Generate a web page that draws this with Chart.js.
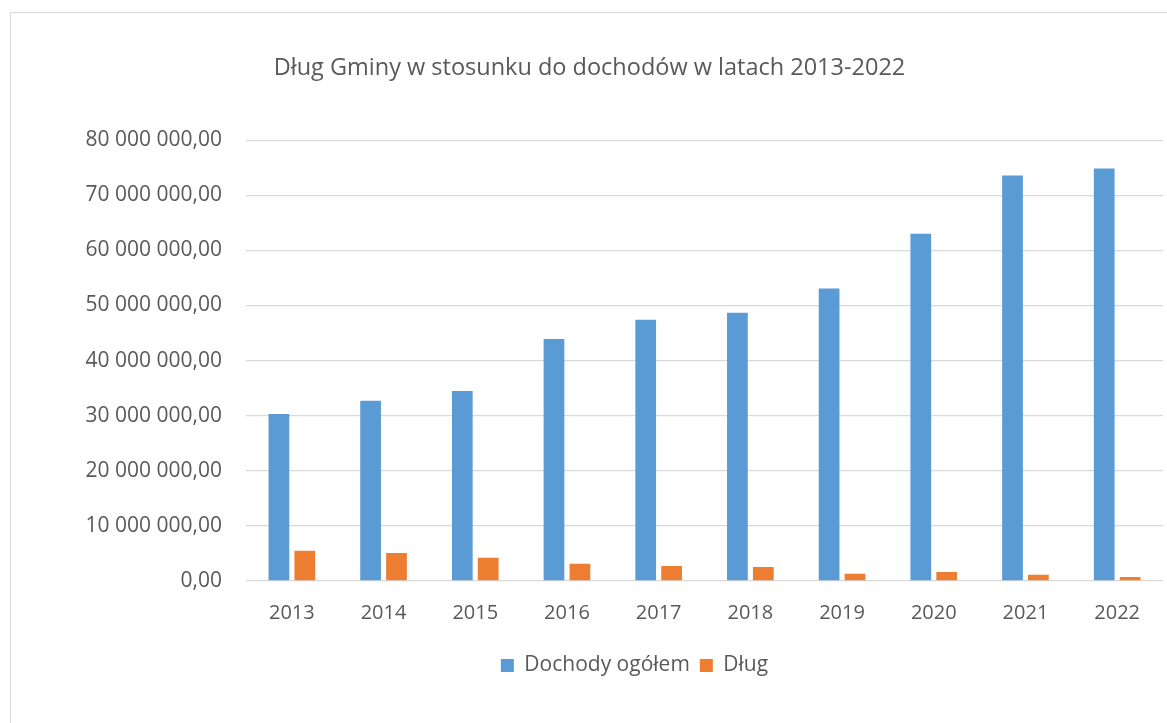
<!DOCTYPE html>
<html>
<head>
<meta charset="utf-8">
<script src="https://cdn.jsdelivr.net/npm/chart.js@4"></script>
<style>
  html, body { margin: 0; padding: 0; background: #fff; overflow: hidden; }
  #frame { position: absolute; left: 10px; top: 12px; width: 1200px; height: 800px; border: 1px solid #d9d9d9; }
  #wrap { position: absolute; left: 0; top: 0; width: 1167px; height: 723px; }
</style>
</head>
<body>
<div id="frame"></div>
<div id="wrap"><canvas id="chart"></canvas></div>
<script>
// Lata i wartości
const years = ['2013', '2014', '2015', '2016', '2017', '2018', '2019', '2020', '2021', '2022'];
const dochody = [30300000, 32700000, 34500000, 43900000, 47400000, 48700000, 53100000, 63000000, 73600000, 74850000];
const dlug = [5500000, 5100000, 4200000, 3150000, 2700000, 2550000, 1330000, 1640000, 1150000, 730000];

const textColor = '#595959';
const fontFamily = "'Open Sans', sans-serif";

// 80000000 -> "80 000 000,00"
function fmt(v) {
    const s = Math.round(v).toString().replace(/\B(?=(\d{3})+(?!\d))/g, ' ');
    return s + ',00';
}

// w oryginale tytuł i legenda nie są na środku płótna - lekko je przesuwamy w prawo
const shiftBoxes = {
    id: 'shiftBoxes',
    afterLayout(chart) {
        const l = chart.legend;
        if (l) {
            l.left += 53;
            l.right += 53;
            (l.legendHitBoxes || []).forEach(b => { b.left += 53; });
        }
        const t = chart.titleBlock;
        if (t) {
            t.left += 8;
            t.right += 8;
        }
    }
};

new Chart(document.getElementById('chart'), {
    type: 'bar',
    data: {
        labels: years,
        datasets: [
            { label: 'Dochody ogółem', data: dochody, backgroundColor: '#5b9bd5' },
            { label: 'Dług', data: dlug, backgroundColor: '#ed7d31' }
        ]
    },
    plugins: [shiftBoxes],
    options: {
        responsive: true,
        maintainAspectRatio: false,
        animation: false,
        layout: { padding: { left: 0, right: 4, top: 0, bottom: 37 } },
        datasets: { bar: { categoryPercentage: 0.565, barPercentage: 0.8 } },
        plugins: {
            title: {
                display: true,
                text: 'Dług Gminy w stosunku do dochodów w latach 2013-2022',
                color: textColor,
                font: { family: fontFamily, size: 23.5, weight: 'normal', lineHeight: 1.2 },
                padding: { top: 54, bottom: 58 }
            },
            legend: {
                position: 'bottom',
                labels: {
                    color: textColor,
                    font: { family: fontFamily, size: 21 },
                    boxWidth: 13,
                    boxHeight: 13,
                    padding: 10
                }
            },
            tooltip: { enabled: false }
        },
        scales: {
            x: {
                grid: { display: false, drawTicks: false },
                border: { display: false },
                ticks: { color: textColor, font: { family: fontFamily, size: 20 }, padding: 20 }
            },
            y: {
                min: 0,
                max: 80000000,
                grid: { color: '#d9d9d9', lineWidth: 1.3, drawTicks: false },
                border: { display: false },
                ticks: {
                    stepSize: 10000000,
                    color: textColor,
                    font: { family: fontFamily, size: 21 },
                    padding: 24,
                    callback: v => fmt(v)
                },
                afterFit: s => { s.width = 246; }
            }
        }
    }
});
</script>
</body>
</html>
